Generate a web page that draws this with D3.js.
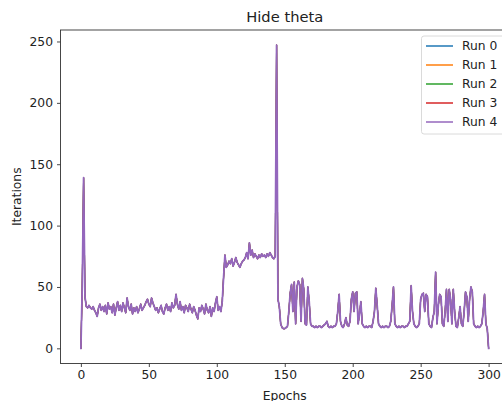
<!DOCTYPE html>
<html>
<head>
<meta charset="utf-8">
<script src="https://cdn.jsdelivr.net/npm/d3@7/dist/d3.min.js"></script>
<style>
  html, body { margin: 0; padding: 0; background: #fff; }
  svg { display: block; font-family: "DejaVu Sans", sans-serif; }
</style>
</head>
<body>
<svg id="chart" width="502" height="401"></svg>
<script>
// Iterations needed per epoch (epochs 0..300); all five runs coincide.
const iterations = [
  0, 50, 139, 42, 34, 33, 35, 33, 32, 34,
  31, 29, 26, 33, 36, 31, 34, 30, 35, 28,
  37, 32, 34, 29, 36, 27, 33, 38, 31, 35,
  30, 37, 33, 29, 41, 34, 31, 36, 28, 33,
  30, 34, 29, 32, 36, 31, 33, 35, 38, 40,
  36, 34, 41, 37, 34, 31, 33, 29, 32, 35,
  30, 28, 33, 36, 31, 34, 30, 37, 33, 35,
  44, 36, 32, 38, 31, 34, 29, 35, 33, 30,
  36, 32, 29, 34, 31, 27, 24, 33, 30, 35,
  32, 28, 36, 31, 29, 34, 26, 33, 30, 37,
  42, 31, 34, 30, 38, 58, 76, 66, 68, 71,
  69, 73, 67, 70, 74, 70, 68, 66, 69, 71,
  72, 74, 78, 73, 86, 76, 80, 74, 77, 75,
  73, 76, 74, 77, 75, 76, 74, 77, 75, 78,
  76, 74, 73, 75, 247, 40, 34, 20, 17, 16,
  16, 17, 18, 30, 45, 52, 30, 54, 20, 50,
  55, 52, 22, 57, 48, 20, 19, 50, 38, 20,
  18, 18, 17, 18, 17, 18, 18, 17, 18, 19,
  20, 22, 18, 17, 18, 17, 18, 18, 20, 30,
  44, 22, 18, 17, 20, 25, 19, 18, 22, 40,
  46, 30, 45, 46, 20, 28, 38, 20, 18, 17,
  18, 17, 18, 18, 17, 22, 30, 49, 35, 20,
  18, 17, 18, 17, 18, 18, 17, 18, 22, 35,
  50, 20, 18, 17, 18, 17, 18, 18, 17, 18,
  18, 20, 22, 51, 30, 20, 18, 17, 18, 20,
  40, 44, 45, 30, 44, 42, 20, 18, 17, 25,
  30, 62, 20, 35, 44, 42, 20, 18, 30, 48,
  22, 48, 40, 20, 48, 30, 18, 17, 25, 34,
  20, 18, 30, 46, 42, 22, 40, 50, 46, 20,
  18, 17, 18, 17, 18, 20, 30, 44, 20, 16,
  0
];
const epochs = iterations.map((_, i) => i);

const runNames = ["Run 0", "Run 1", "Run 2", "Run 3", "Run 4"];
const runColors = ["#1f77b4", "#ff7f0e", "#2ca02c", "#d62728", "#9467bd"];
const runValues = [iterations, iterations, iterations, iterations, iterations];

const xTicks = [0, 50, 100, 150, 200, 250, 300];
const yTicks = [0, 50, 100, 150, 200, 250];

const titleText = "Hide theta";
const xLabel = "Epochs";
const yLabel = "Iterations";

// Axes box (the right edge runs past the canvas)
const box = { left: 60.5, top: 30, bottom: 363.5, right: 509 };

const x = d3.scaleLinear().domain([-15, 315]).range([box.left, box.right]);
const y = d3.scaleLinear().domain([-12.35, 259.35]).range([box.bottom, box.top]);

const svg = d3.select("#chart");
const axisColor = "#333";
const fontSize = 12.3;

// Series: later runs sit on top; the last one fully covers the others
const line = d3.line().x((d, i) => x(epochs[i])).y(d => y(d));
svg.append("g").selectAll("path")
  .data(runValues)
  .join("path")
  .attr("d", d => line(d))
  .attr("fill", "none")
  .attr("stroke", (d, i) => runColors[i])
  .attr("stroke-width", (d, i) => i === runValues.length - 1 ? 1.8 : 1.1)
  .attr("stroke-linejoin", "round")
  .attr("stroke-linecap", "square");

// Axes
const xAxis = d3.axisBottom(x).tickValues(xTicks).tickSize(3.5).tickPadding(3);
const gx = svg.append("g").attr("transform", `translate(0,${box.bottom})`).call(xAxis);
const yAxis = d3.axisLeft(y).tickValues(yTicks).tickSize(3.5).tickPadding(4);
const gy = svg.append("g").attr("transform", `translate(${box.left},0)`).call(yAxis);

[gx, gy].forEach(g => {
  g.select(".domain").remove();
  g.selectAll(".tick line").attr("stroke", axisColor).attr("stroke-width", 0.9);
  g.selectAll(".tick text")
    .attr("fill", "#222")
    .style("font-family", "DejaVu Sans")
    .style("font-size", fontSize + "px");
});

// Spines
svg.append("rect")
  .attr("x", box.left).attr("y", box.top)
  .attr("width", box.right - box.left).attr("height", box.bottom - box.top)
  .attr("fill", "none").attr("stroke", axisColor).attr("stroke-width", 0.9);

// Title and axis labels
svg.append("text")
  .attr("x", (box.left + box.right) / 2).attr("y", 22)
  .attr("text-anchor", "middle")
  .attr("fill", "#222")
  .style("font-size", "14.7px")
  .text(titleText);

svg.append("text")
  .attr("x", (box.left + box.right) / 2).attr("y", 399.5)
  .attr("text-anchor", "middle")
  .attr("fill", "#222")
  .style("font-size", fontSize + "px")
  .text(xLabel);

svg.append("text")
  .attr("transform", `translate(21,${(box.top + box.bottom) / 2}) rotate(-90)`)
  .attr("text-anchor", "middle")
  .attr("fill", "#222")
  .style("font-size", fontSize + "px")
  .text(yLabel);

// Legend
const lg = svg.append("g");
lg.append("rect")
  .attr("x", 421.5).attr("y", 36)
  .attr("width", 100).attr("height", 98)
  .attr("rx", 2.5)
  .attr("fill", "#fff").attr("fill-opacity", 0.8)
  .attr("stroke", "#d6d6d6").attr("stroke-width", 0.9);
const items = lg.selectAll("g.item")
  .data(runNames)
  .join("g")
  .attr("class", "item")
  .attr("transform", (d, i) => `translate(0,${46 + i * 19})`);
items.append("line")
  .attr("x1", 426).attr("x2", 453)
  .attr("y1", 0).attr("y2", 0)
  .attr("stroke", (d, i) => runColors[i])
  .attr("stroke-width", 1.5);
items.append("text")
  .attr("x", 462).attr("y", 4.4)
  .attr("fill", "#222")
  .style("font-size", fontSize + "px")
  .text(d => d);
</script>
</body>
</html>
